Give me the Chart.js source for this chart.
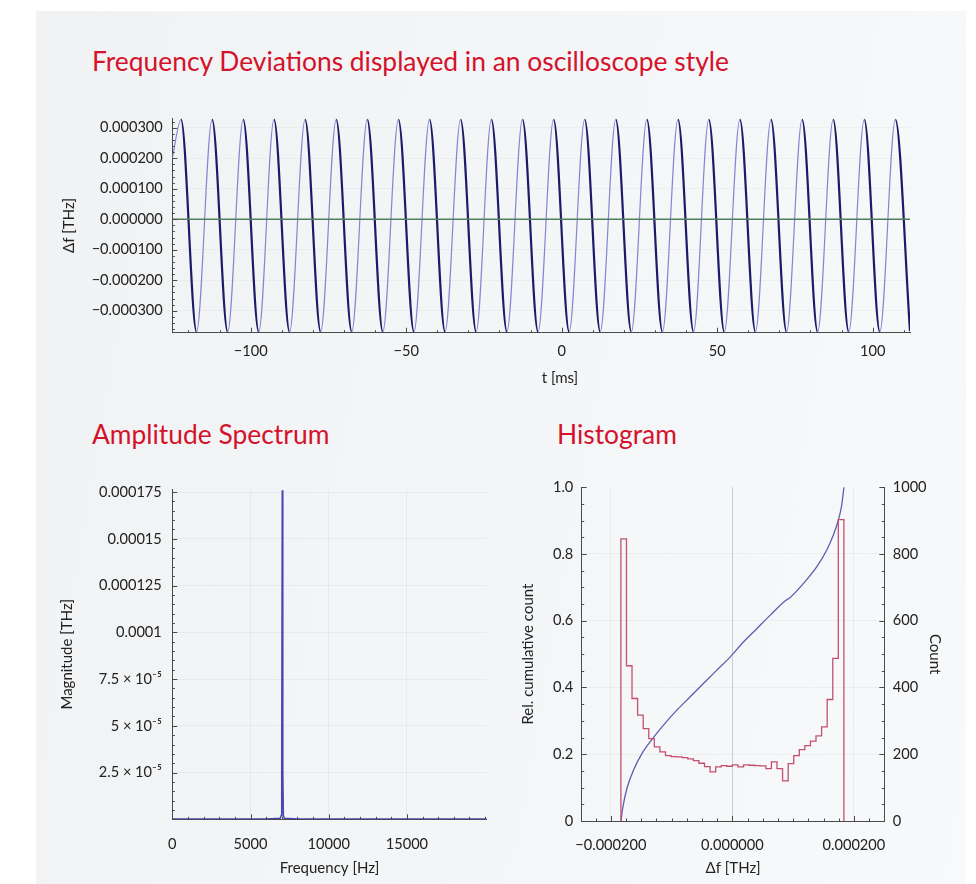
<!DOCTYPE html>
<html>
<head>
<meta charset="utf-8">
<script src="https://cdn.jsdelivr.net/npm/chart.js@4.4.1/dist/chart.umd.min.js"></script>
<style>
html,body{margin:0;padding:0;background:#ffffff;}
body{width:976px;height:884px;position:relative;overflow:hidden;font-family:Lato,"Noto Sans",sans-serif;}
#panel{position:absolute;left:36px;top:11px;width:930px;height:873px;background:linear-gradient(100deg,#f1f2f3 0%,#f5f6f7 60%,#f8f9fa 100%);}
.ttl{position:absolute;color:#d4122b;font-size:26.4px;line-height:30px;white-space:nowrap;}
.axt{position:absolute;color:#222;font-size:15px;line-height:18px;white-space:nowrap;transform:translateX(-50%);}
canvas{position:absolute;}
</style>
</head>
<body>
<div id="panel"></div>
<div class="ttl" style="left:92px;top:46px">Frequency Deviations displayed in an oscilloscope style</div>
<div class="ttl" style="left:92px;top:419px">Amplitude Spectrum</div>
<div class="ttl" style="left:557px;top:419px">Histogram</div>
<canvas id="c1" width="930" height="300" style="left:36px;top:100px"></canvas>
<div class="axt" style="left:560px;top:368px">t [ms]</div>
<canvas id="c2" width="480" height="414" style="left:36px;top:470px"></canvas>
<canvas id="c3" width="466" height="414" style="left:500px;top:470px"></canvas>
<script>
// ---------------- data: oscilloscope trace (extrema) ----------------
const oscT = [-125.2, -122.4, -117.4, -112.4, -107.4, -102.4, -97.4, -92.5, -87.5, -82.5, -77.5,
  -72.5, -67.5, -62.5, -57.5, -52.5, -47.5, -42.5, -37.5, -32.5, -27.5, -22.6, -17.6, -12.6, -7.6,
  -2.6, 2.4, 7.4, 12.4, 17.4, 22.4, 27.4, 32.4, 37.4, 42.4, 47.3, 52.3, 57.3, 62.3, 67.3, 72.3,
  77.3, 82.3, 87.3, 92.3, 97.3, 102.3, 107.3, 112.0];
const oscV = [0.000200,
  0.000327, -0.000369, 0.000327, -0.000369, 0.000327, -0.000369, 0.000327, -0.000369,
  0.000327, -0.000369, 0.000327, -0.000369, 0.000327, -0.000369, 0.000327, -0.000369,
  0.000327, -0.000369, 0.000327, -0.000369, 0.000327, -0.000369, 0.000327, -0.000369,
  0.000327, -0.000369, 0.000327, -0.000369, 0.000327, -0.000369, 0.000327, -0.000369,
  0.000327, -0.000369, 0.000327, -0.000369, 0.000327, -0.000369, 0.000327, -0.000369,
  0.000327, -0.000369, 0.000327, -0.000369, 0.000327, -0.000369,
  0.000327, -0.000367];
const zeroT = [-125.2, 112.0];
const zeroV = [0, 0];
const oscXTicks = [-100, -50, 0, 50, 100];
const oscXTickLabels = ['\u2212100', '\u221250', '0', '50', '100'];
const oscYTicks = [-0.0003, -0.0002, -0.0001, 0, 0.0001, 0.0002, 0.0003];
const oscYTickLabels = ['\u22120.000300', '\u22120.000200', '\u22120.000100', '0.000000', '0.000100', '0.000200', '0.000300'];

// ---------------- data: amplitude spectrum ----------------
const specF = [0, 3000, 6000, 6900, 6960, 6995, 7030, 7065, 7100, 7160, 8000, 12000, 16000, 20100];
const specM = [0.0000001, 0.0000001, 0.0000002, 0.0000006, 0.000002, 0.000027, 0.000176, 0.000026,
  0.000002, 0.0000006, 0.0000002, 0.0000001, 0.0000001, 0.0000001];
const specXTicks = [0, 5000, 10000, 15000];
const specXTickLabels = ['0', '5000', '10000', '15000'];
const specYTicks = [0.000025, 0.00005, 0.000075, 0.0001, 0.000125, 0.00015, 0.000175];
const specYTickLabels = ['2.5 \u00d7 10\u207b\u2075', '5 \u00d7 10\u207b\u2075', '7.5 \u00d7 10\u207b\u2075',
  '0.0001', '0.000125', '0.00015', '0.000175'];

// ---------------- data: histogram ----------------
const histEdges = [-0.0001835, -0.0001743, -0.0001652, -0.0001560, -0.0001468, -0.0001376, -0.0001285,
  -0.0001193, -0.0001101, -0.0001009, -0.0000918, -0.0000826, -0.0000734, -0.0000642, -0.0000551,
  -0.0000459, -0.0000367, -0.0000275, -0.0000184, -0.0000092, 0,
  0.0000092, 0.0000184, 0.0000275, 0.0000367, 0.0000459, 0.0000551, 0.0000642, 0.0000734, 0.0000826,
  0.0000918, 0.0001009, 0.0001101, 0.0001193, 0.0001285, 0.0001376, 0.0001468, 0.0001560, 0.0001652,
  0.0001743, 0.0001835];
const histCounts = [845, 465, 367, 317, 277, 247, 222, 207, 196, 193,
  192, 190, 186, 181, 173, 163, 147, 162, 166, 164,
  168, 162, 168, 167, 166, 165, 157, 177, 157, 120,
  172, 196, 214, 226, 239, 255, 282, 364, 487, 903];
const cumX = [-0.0001834, -0.0001801, -0.0001735, -0.0001627, -0.0001489, -0.0001325, -0.0001134,
  -0.0000914, -0.0000695, -0.0000477, -0.0000256, -0.0000038, 0.0000181, 0.0000401, 0.0000620,
  0.0000866, 0.0000948, 0.0001167, 0.0001387, 0.0001551, 0.0001660, 0.0001742, 0.0001798, 0.0001836];
const cumY = [0, 0.043, 0.098, 0.153, 0.202, 0.244, 0.287, 0.332, 0.372, 0.412, 0.452, 0.491,
  0.536, 0.576, 0.616, 0.659, 0.669, 0.711, 0.761, 0.811, 0.856, 0.900, 0.945, 1.0];
const histXTicks = [-0.0002, 0, 0.0002];
const histXTickLabels = ['\u22120.000200', '0.000000', '0.000200'];
const histYTicks = [0, 0.2, 0.4, 0.6, 0.8, 1.0];
const histYTickLabels = ['0', '0.2', '0.4', '0.6', '0.8', '1.0'];
const histY2Ticks = [0, 200, 400, 600, 800, 1000];
const histY2TickLabels = ['0', '200', '400', '600', '800', '1000'];

// ---------------- styling helpers ----------------
const FONT = 'Lato, "Noto Sans", sans-serif';
Chart.defaults.font.family = FONT;
Chart.defaults.font.size = 14.6;
Chart.defaults.color = '#222';
const TITLEFONT = { family: FONT, size: 15 };
const AXC = '#4a4a4a';
const fixW = w => s => { s.width = w; };
const fixH = h => s => { s.height = h; };
const setTicks = vals => s => { s.ticks = vals.map(v => ({ value: v })); };
const pts = (xs, ys) => xs.map((x, i) => ({ x: x, y: ys[i] }));

// inward major/minor tick marks (Mathematica-like frame ticks)
const inTicks = {
  id: 'inTicks',
  afterDatasetsDraw(chart, args, opts) {
    const ctx = chart.ctx, ca = chart.chartArea;
    ctx.save();
    ctx.strokeStyle = AXC;
    ctx.lineWidth = 1;
    for (const id of Object.keys(opts.scales || {})) {
      const s = chart.scales[id];
      const minor = opts.scales[id];
      const draw = (v, len) => {
        const p = s.getPixelForValue(v);
        const q = Math.round(p) + 0.5;
        ctx.beginPath();
        if (s.isHorizontal()) {
          if (p < ca.left - 0.5 || p > ca.right + 0.5) return;
          ctx.moveTo(q, ca.bottom); ctx.lineTo(q, ca.bottom - len);
        } else if (s.position === 'right') {
          if (p < ca.top - 0.5 || p > ca.bottom + 0.5) return;
          ctx.moveTo(ca.right, q); ctx.lineTo(ca.right - len, q);
        } else {
          if (p < ca.top - 0.5 || p > ca.bottom + 0.5) return;
          ctx.moveTo(ca.left, q); ctx.lineTo(ca.left + len, q);
        }
        ctx.stroke();
      };
      const k0 = Math.ceil(s.min / minor - 1e-9), k1 = Math.floor(s.max / minor + 1e-9);
      for (let k = k0; k <= k1; k++) draw(k * minor, 2.5);
      s.ticks.forEach(t => draw(t.value, 5));
    }
    ctx.restore();
  }
};

const common = {
  responsive: false, animation: false, devicePixelRatio: 1,
  events: []
};

// ---------------- chart 1: oscilloscope ----------------
const DARK = '#1b1b68', LIGHT = '#8585d2';
new Chart(document.getElementById('c1'), {
  type: 'line',
  data: { datasets: [
    { data: pts(zeroT, zeroV), borderColor: '#4f7f5e', borderWidth: 1.3, pointRadius: 0, tension: 0 },
    { data: pts(oscT, oscV), cubicInterpolationMode: 'monotone', pointRadius: 0,
      borderColor: LIGHT, borderWidth: 1.2,
      segment: {
        borderColor: c => c.p1.parsed.y < c.p0.parsed.y ? DARK : LIGHT,
        borderWidth: c => c.p1.parsed.y < c.p0.parsed.y ? 2.2 : 1.2
      } }
  ] },
  options: Object.assign({}, common, {
    layout: { padding: { top: 15, right: 56, left: 0, bottom: 0 } },
    plugins: { legend: { display: false }, tooltip: { enabled: false },
      inTicks: { scales: { x: 10, y: 0.00002 } } },
    scales: {
      x: { type: 'linear', min: -125.2, max: 112.0,
        afterBuildTicks: setTicks(oscXTicks), afterFit: fixH(67.3),
        ticks: { autoSkip: false, maxRotation: 0, padding: 9.5, callback: (v, i) => oscXTickLabels[i] },
        grid: { drawOnChartArea: false, drawTicks: false },
        border: { display: true, color: AXC, width: 1 } },
      y: { type: 'linear', min: -0.000372, max: 0.000331,
        afterBuildTicks: setTicks(oscYTicks), afterFit: fixW(136.3),
        ticks: { autoSkip: false, padding: 9.5, callback: (v, i) => oscYTickLabels[i] },
        grid: { color: 'rgba(0,0,0,0.03)', drawTicks: false },
        border: { display: true, color: AXC, width: 1 },
        title: { display: true, text: '\u0394f [THz]', font: TITLEFONT, padding: { top: 24, bottom: 0 } } }
    }
  }),
  plugins: [inTicks]
});

// ---------------- chart 2: amplitude spectrum ----------------
new Chart(document.getElementById('c2'), {
  type: 'line',
  data: { datasets: [
    { data: pts(specF, specM), borderColor: '#4646b2', borderWidth: 1.5, pointRadius: 0, tension: 0 }
  ] },
  options: Object.assign({}, common, {
    layout: { padding: { top: 15.6, right: 29.3, left: 0, bottom: 0 } },
    plugins: { legend: { display: false }, tooltip: { enabled: false },
      inTicks: { scales: { x: 1000, y: 0.000005 } } },
    scales: {
      x: { type: 'linear', min: 0, max: 20100,
        afterBuildTicks: setTicks(specXTicks), afterFit: fixH(64.7),
        ticks: { autoSkip: false, maxRotation: 0, padding: 16.5, callback: (v, i) => specXTickLabels[i] },
        grid: { color: c => c.tick && c.tick.value === 0 ? 'rgba(0,0,0,0)' : 'rgba(0,0,0,0.045)', drawTicks: false },
        border: { display: true, color: AXC, width: 1 },
        title: { display: true, text: 'Frequency [Hz]', font: TITLEFONT, padding: { top: 0, bottom: 7 } } },
      y: { type: 'linear', min: 0, max: 0.0001765,
        afterBuildTicks: setTicks(specYTicks), afterFit: fixW(136.3),
        ticks: { autoSkip: false, padding: 10.5, callback: (v, i) => specYTickLabels[i] },
        grid: { color: 'rgba(0,0,0,0.045)', drawTicks: false },
        border: { display: true, color: AXC, width: 1 },
        title: { display: true, text: 'Magnitude [THz]', font: TITLEFONT, padding: { top: 22.5, bottom: 0 } } }
    }
  }),
  plugins: [inTicks]
});

// ---------------- chart 3: histogram ----------------
const histPts = [{ x: histEdges[0], y: 0 }];
histCounts.forEach((c, i) => histPts.push({ x: histEdges[i], y: c }));
histPts.push({ x: histEdges[histEdges.length - 1], y: 0 });

new Chart(document.getElementById('c3'), {
  type: 'line',
  data: { datasets: [
    { data: histPts, yAxisID: 'y1', stepped: true, borderColor: '#c4506e', borderWidth: 1.3, pointRadius: 0 },
    { data: pts(cumX, cumY), yAxisID: 'y', cubicInterpolationMode: 'monotone', borderColor: '#5d5db0', borderWidth: 1.3, pointRadius: 0 }
  ] },
  options: Object.assign({}, common, {
    layout: { padding: { top: 16.7, right: 0, left: 0, bottom: 0 } },
    plugins: { legend: { display: false }, tooltip: { enabled: false },
      inTicks: { scales: { x: 0.000025, y: 0.05, y1: 50 } } },
    scales: {
      x: { type: 'linear', min: -0.000248, max: 0.00025,
        afterBuildTicks: setTicks(histXTicks), afterFit: fixH(63),
        ticks: { autoSkip: false, maxRotation: 0, padding: 15.5, callback: (v, i) => histXTickLabels[i] },
        grid: { color: c => c.tick && c.tick.value === 0 ? 'rgba(0,0,0,0.16)' : 'rgba(0,0,0,0.05)', drawTicks: false },
        border: { display: true, color: AXC, width: 1 },
        title: { display: true, text: '\u0394f [THz]', font: TITLEFONT, padding: { top: 0, bottom: 7 } } },
      y: { type: 'linear', position: 'left', min: 0, max: 1,
        afterBuildTicks: setTicks(histYTicks), afterFit: fixW(81.7),
        ticks: { autoSkip: false, padding: 8.4, callback: (v, i) => histYTickLabels[i] },
        grid: { color: c => c.tick && (c.tick.value === 0 || c.tick.value === 1) ? 'rgba(0,0,0,0)' : 'rgba(0,0,0,0.04)', drawTicks: false },
        border: { display: true, color: AXC, width: 1 },
        title: { display: true, text: 'Rel. cumulative count', font: TITLEFONT, padding: { top: 19.3, bottom: 0 } } },
      y1: { type: 'linear', position: 'right', min: 0, max: 1000,
        afterBuildTicks: setTicks(histY2Ticks), afterFit: fixW(81.7),
        ticks: { autoSkip: false, padding: 8.4, callback: (v, i) => histY2TickLabels[i] },
        grid: { drawOnChartArea: false, drawTicks: false },
        border: { display: true, color: AXC, width: 1 },
        title: { display: true, text: 'Count', font: TITLEFONT, padding: { top: 22, bottom: 0 } } }
    }
  }),
  plugins: [inTicks]
});
</script>
</body>
</html>
